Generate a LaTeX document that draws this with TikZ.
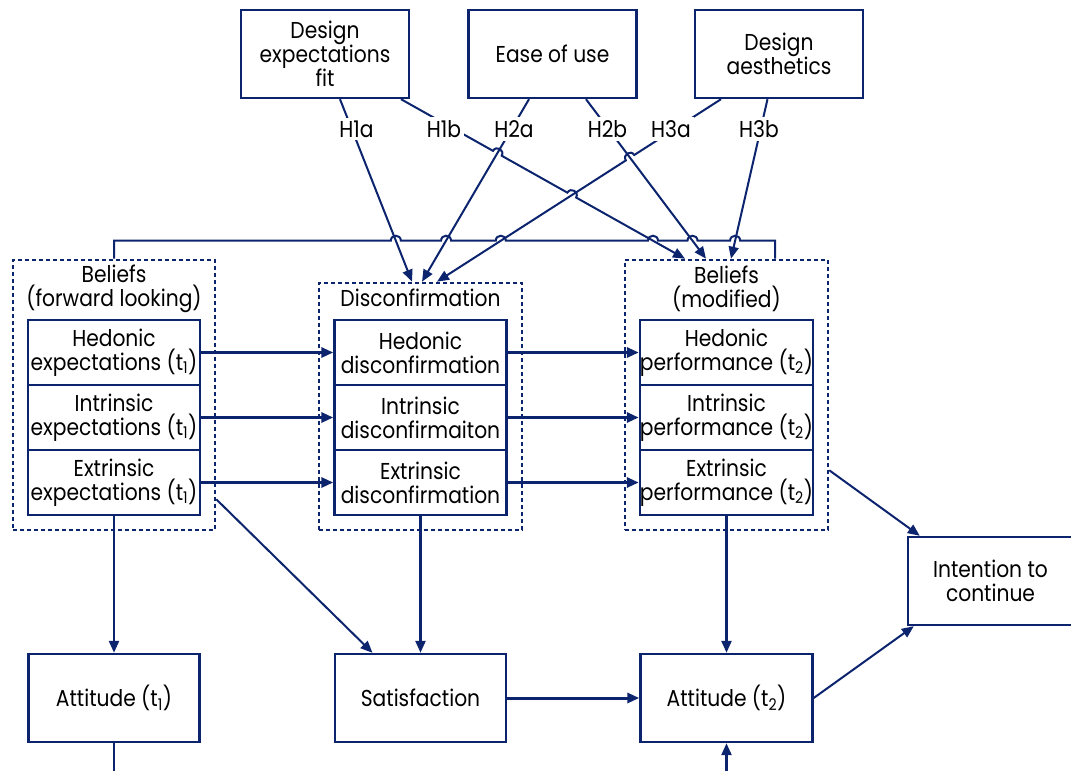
\documentclass[tikz,border=0pt]{standalone}
\usepackage{fontspec}
\setmainfont{Poppins}[FakeStretch=0.88]
\usetikzlibrary{arrows.meta,calc}
\definecolor{navy}{RGB}{12,36,110}
\newcommand\dgfont{\fontsize{23}{24}\selectfont}
\tikzset{
  box/.style={draw=navy, line width=2.4pt, minimum width=168pt, minimum height=88pt,
    align=center, inner sep=0pt, font=\dgfont, text=black},
  ibox/.style={draw=navy, line width=2.4pt, minimum width=172pt, minimum height=65pt,
    align=center, inner sep=0pt, font=\dgfont, text=black},
  dbox/.style={draw=navy, line width=2.6pt, dash pattern=on 4pt off 3pt, inner sep=0pt},
  txt/.style={align=center, inner sep=0pt, font=\dgfont, text=black},
  lbl/.style={fill=white, inner sep=3pt, font=\dgfont, text=black},
  conn/.style={draw=navy, line width=2pt},
  arr/.style={conn, -{Triangle[length=12pt,width=10pt]}},
  harr/.style={draw=navy, line width=3pt, -{Triangle[length=12pt,width=10pt]}},
  hopl/.style={bend left=90, looseness=1.7},
  hopr/.style={bend right=90, looseness=1.7}
}
\begin{document}
\begin{tikzpicture}[x=1pt, y=-1pt]
\useasboundingbox (0,0) rectangle (1071,771);

% top boxes
\node[box] (dfit) at (325,54) {Design\\expectations\\fit};
\node[box] (ease) at (552.5,54) {Ease of use};
\node[box] (aest) at (779,54) {Design\\aesthetics};

% dashed groups
\node[dbox, minimum width=202pt, minimum height=270pt] (bf) at (114,395) {};
\node[dbox, minimum width=203pt, minimum height=247pt] (disc) at (420.5,406.5) {};
\node[dbox, minimum width=203pt, minimum height=270pt] (bm) at (726.5,395) {};
\node[txt] (bft) at (114,289) {Beliefs\\(forward looking)};
\node[txt] (disct) at (420.5,298) {Disconfirmation};
\node[txt] (bmt) at (726.5,289) {Beliefs\\(modified)};

% inner boxes
\node[ibox] (he) at (114,352.5) {Hedonic\\expectations (t\textsubscript{1})};
\node[ibox] (ie) at (114,417.5) {Intrinsic\\expectations (t\textsubscript{1})};
\node[ibox] (ee) at (114,482.5) {Extrinsic\\expectations (t\textsubscript{1})};
\node[ibox] (hd) at (420.5,352.5) {Hedonic\\disconfirmation};
\node[ibox] (id) at (420.5,417.5) {Intrinsic\\disconfirmaiton};
\node[ibox] (ed) at (420.5,482.5) {Extrinsic\\disconfirmation};
\node[ibox] (hp) at (726.5,352.5) {Hedonic\\performance (t\textsubscript{2})};
\node[ibox] (ip) at (726.5,417.5) {Intrinsic\\performance (t\textsubscript{2})};
\node[ibox] (ep) at (726.5,482.5) {Extrinsic\\performance (t\textsubscript{2})};

% bottom boxes
\node[box, minimum width=171pt] (att1) at (114,698) {Attitude (t\textsubscript{1})};
\node[box, minimum width=171pt] (sat) at (420.5,698) {Satisfaction};
\node[box, minimum width=172pt] (att2) at (726.5,698) {Attitude (t\textsubscript{2})};
\node[box, minimum width=165pt] (int) at (990.5,581) {Intention to\\continue};

% horizontal arrows
\draw[harr] (he) -- (hd);
\draw[harr] (ie) -- (id);
\draw[harr] (ee) -- (ed);
\draw[harr] (hd) -- (hp);
\draw[harr] (id) -- (ip);
\draw[harr] (ed) -- (ep);
\draw[harr] (sat) -- (att2);

% vertical arrows
\draw[arr, line width=2.4pt] (ee) -- (att1);
\draw[arr, line width=2.4pt] (ed) -- (sat);
\draw[arr, line width=2.4pt] (ep) -- (att2);
\coordinate (bot1) at (114,771);
\coordinate (bot2) at (726.5,771);
\draw[conn, line width=2.4pt] (att1) -- (bot1);
\draw[arr, line width=2.4pt] (bot2) -- (att2);

% diagonal arrows
\draw[arr] ($(bf.south east)+(0,-32)$) -- ($(sat.north)+(-48,0)$);
\draw[arr] ($(bm.south east)+(0,-61)$) -- ($(int.north west)+(13,0)$);
\draw[arr] (att2.east) -- ($(int.south west)+(7,0)$);

% top connectors: endpoints
\coordinate (s1a) at ($(dfit.south)+(15,0)$);
\coordinate (s1b) at ($(dfit.south)+(76,0)$);
\coordinate (s2a) at ($(ease.south)+(-23.5,0)$);
\coordinate (s2b) at ($(ease.south)+(33.5,0)$);
\coordinate (s3a) at ($(aest.south)+(-58,0)$);
\coordinate (s3b) at ($(aest.south)+(-11.5,0)$);
\coordinate (t1a) at ($(disc.north)+(-8.5,0)$);
\coordinate (t2a) at ($(disc.north)+(1.5,0)$);
\coordinate (t3a) at ($(disc.north)+(16.5,0)$);
\coordinate (t1b) at ($(bm.north)+(-41.5,0)$);
\coordinate (t2b) at ($(bm.north)+(-20.5,0)$);
\coordinate (t3b) at ($(bm.north)+(4.5,0)$);

% feedback line ends
\coordinate (fbL) at ($(bf.north)+(0,-18)$);
\coordinate (fbR) at ($(bm.north)+(48.5,-18)$);

% crossings
\coordinate (xa) at (intersection of s1b--t1b and s2a--t2a);
\coordinate (xb) at (intersection of s1b--t1b and s3a--t3a);
\coordinate (xc) at (intersection of s3a--t3a and s2b--t2b);
\coordinate (f1) at (intersection of fbL--fbR and s1a--t1a);
\coordinate (f2) at (intersection of fbL--fbR and s2a--t2a);
\coordinate (f3) at (intersection of fbL--fbR and s3a--t3a);
\coordinate (f4) at (intersection of fbL--fbR and s1b--t1b);
\coordinate (f5) at (intersection of fbL--fbR and s2b--t2b);
\coordinate (f6) at (intersection of fbL--fbR and s3b--t3b);

% connectors from top boxes
\draw[arr] (s1a) -- (t1a);
\draw[arr] (s2a) -- (t2a);
\draw[arr] (s2b) -- (t2b);
\draw[arr] (s3b) -- (t3b);
\draw[arr] (s1b) -- ($(xa)!5pt!(s1b)$) to[hopl] ($(xa)!5pt!(t1b)$)
  -- ($(xb)!5pt!(s1b)$) to[hopl] ($(xb)!5pt!(t1b)$) -- (t1b);
\draw[arr] (s3a) -- ($(xc)!5pt!(s3a)$) to[hopr] ($(xc)!5pt!(t3a)$) -- (t3a);

% feedback line with hops
\draw[conn] (bf.north) -- (fbL)
  -- ($(f1)!5pt!(fbL)$) to[hopl] ($(f1)!5pt!(fbR)$)
  -- ($(f2)!5pt!(fbL)$) to[hopl] ($(f2)!5pt!(fbR)$)
  -- ($(f3)!5pt!(fbL)$) to[hopl] ($(f3)!5pt!(fbR)$)
  -- ($(f4)!5pt!(fbL)$) to[hopl] ($(f4)!5pt!(fbR)$)
  -- ($(f5)!5pt!(fbL)$) to[hopl] ($(f5)!5pt!(fbR)$)
  -- ($(f6)!5pt!(fbL)$) to[hopl] ($(f6)!5pt!(fbR)$)
  -- (fbR) -- (fbR |- bm.north);

% hypothesis labels
\node[lbl] (l1a) at (356.5,129) {H1a};
\node[lbl] (l1b) at (444,129) {H1b};
\node[lbl] (l2a) at (514,129) {H2a};
\node[lbl] (l2b) at (607.5,129) {H2b};
\node[lbl] (l3a) at (671,129) {H3a};
\node[lbl] (l3b) at (759,129) {H3b};
\end{tikzpicture}
\end{document}
